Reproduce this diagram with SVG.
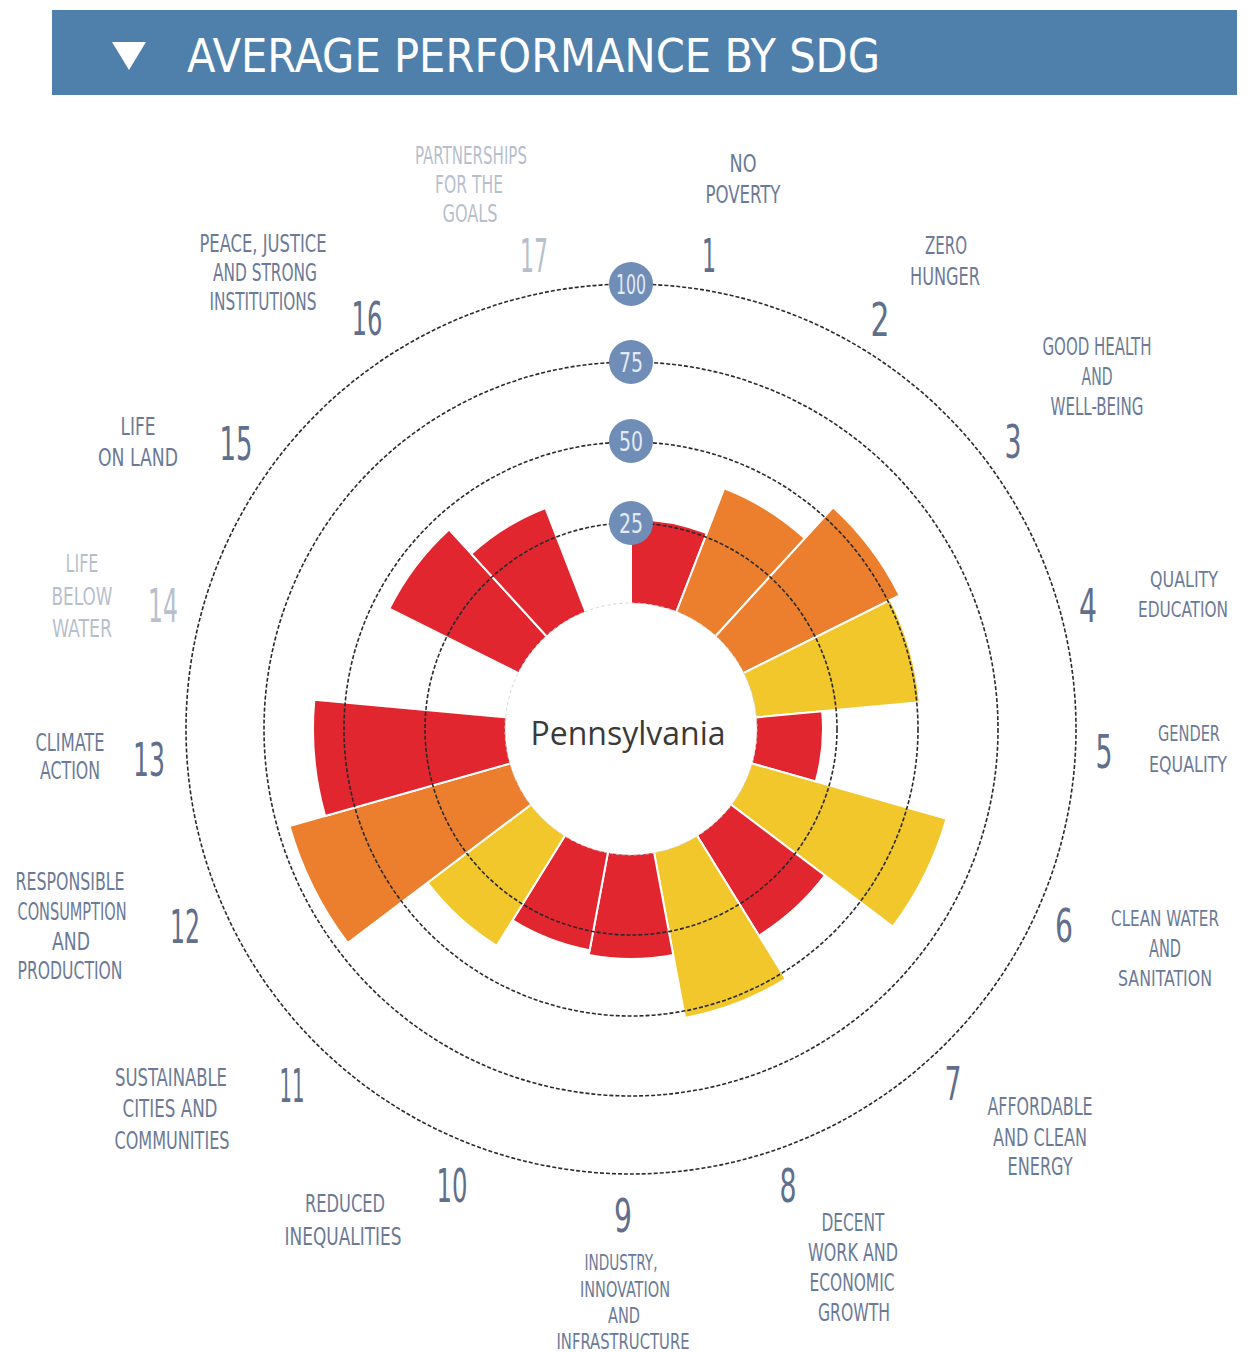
<svg xmlns="http://www.w3.org/2000/svg" width="1248" height="1352" viewBox="0 0 1248 1352">
<style>
.hdr{font-family:"DejaVu Sans Condensed","Liberation Sans",sans-serif;font-size:46px;fill:#ffffff;}
.num{font-family:"Liberation Sans Narrow","DejaVu Sans Condensed","Liberation Sans",sans-serif;font-size:47px;fill:#5f6f8c;text-anchor:middle;}
.lbl{font-family:"Liberation Sans Narrow","DejaVu Sans Condensed","Liberation Sans",sans-serif;font-size:24px;fill:#6b7a96;text-anchor:middle;}
.rt{font-size:21px;}
.sm{font-size:22px;}
.dim{fill:#b7bfcd;}
.ring{fill:none;stroke:#2a2a2a;stroke-width:1.6;stroke-dasharray:4 2;}
.bar{stroke:#ffffff;stroke-width:2;stroke-linejoin:miter;}
.red{fill:#e1262f;}
.org{fill:#ec7f2d;}
.yel{fill:#f1c72b;}
.badge{fill:#6f8db7;}
.btxt{font-family:"Liberation Sans Narrow","DejaVu Sans Condensed","Liberation Sans",sans-serif;font-size:26px;fill:#e4eaf3;text-anchor:middle;}
</style>
<rect width="1248" height="1352" fill="#ffffff"/>
<g id="header">
<rect x="52" y="10" width="1185" height="85" fill="#4f80ac"/>
<polygon points="112,42 146,42 129,70" fill="#ffffff"/>
<text class="hdr" x="187" y="72" textLength="693" lengthAdjust="spacingAndGlyphs">AVERAGE PERFORMANCE BY SDG</text>
</g>
<g id="bars">
<path id="bar1" class="bar red" d="M631,729 L631,519 A210,210 0 0 1 706.86,533.18 Z"/>
<path id="bar2" class="bar org" d="M631,729 L724.20,488.42 A258,258 0 0 1 804.81,538.34 Z"/>
<path id="bar3" class="bar org" d="M631,729 L833.11,507.30 A300,300 0 0 1 899.55,595.28 Z"/>
<path id="bar4" class="bar yel" d="M631,729 L890.60,599.74 A290,290 0 0 1 919.76,702.24 Z"/>
<path id="bar5" class="bar red" d="M631,729 L822.18,711.28 A192,192 0 0 1 815.67,781.54 Z"/>
<path id="bar6" class="bar yel" d="M631,729 L946.48,818.76 A328,328 0 0 1 892.75,926.66 Z"/>
<path id="bar7" class="bar red" d="M631,729 L824.92,875.44 A243,243 0 0 1 758.92,935.60 Z"/>
<path id="bar8" class="bar yel" d="M631,729 L785.77,978.96 A294,294 0 0 1 685.02,1017.99 Z"/>
<path id="bar9" class="bar red" d="M631,729 L673.26,955.08 A230,230 0 0 1 588.74,955.08 Z"/>
<path id="bar10" class="bar red" d="M631,729 L589.66,950.17 A225,225 0 0 1 512.55,920.30 Z"/>
<path id="bar11" class="bar yel" d="M631,729 L496.76,945.81 A255,255 0 0 1 427.50,882.67 Z"/>
<path id="bar12" class="bar org" d="M631,729 L347.70,942.93 A355,355 0 0 1 289.55,826.15 Z"/>
<path id="bar13" class="bar red" d="M631,729 L325.14,816.02 A318,318 0 0 1 314.36,699.66 Z"/>
<path id="bar15" class="bar red" d="M631,729 L389.31,608.65 A270,270 0 0 1 449.10,529.47 Z"/>
<path id="bar16" class="bar red" d="M631,729 L471.33,553.85 A237,237 0 0 1 545.39,508.00 Z"/>
</g>
<g id="hole">
<circle cx="631" cy="729" r="126" fill="#ffffff" stroke="#d4d4d4" stroke-width="1" stroke-dasharray="3 3"/>
<text x="628" y="745" font-family="'Open Sans','Liberation Sans',sans-serif" font-size="33" fill="#3a3a3a" text-anchor="middle" textLength="195" lengthAdjust="spacingAndGlyphs">Pennsylvania</text>
</g>
<g id="rings">
<circle class="ring" cx="631" cy="729" r="206"/>
<circle class="ring" cx="631" cy="729" r="287"/>
<circle class="ring" cx="631" cy="729" r="367"/>
<circle class="ring" cx="631" cy="729" r="445"/>
</g>
<g id="badges">
<circle class="badge" cx="631" cy="284" r="22"/><text class="btxt" x="631" y="294" textLength="30" lengthAdjust="spacingAndGlyphs">100</text>
<circle class="badge" cx="631" cy="362" r="22"/><text class="btxt" x="631" y="372" textLength="24" lengthAdjust="spacingAndGlyphs">75</text>
<circle class="badge" cx="631" cy="441" r="22"/><text class="btxt" x="631" y="451" textLength="24" lengthAdjust="spacingAndGlyphs">50</text>
<circle class="badge" cx="631" cy="523" r="22"/><text class="btxt" x="631" y="533" textLength="24" lengthAdjust="spacingAndGlyphs">25</text>
</g>
<g id="labels">
<g id="sdg1"><text class="num" x="709" y="272" textLength="14" lengthAdjust="spacingAndGlyphs">1</text>
<text class="lbl" x="743" y="172" textLength="27" lengthAdjust="spacingAndGlyphs">NO</text>
<text class="lbl" x="743" y="203" textLength="75" lengthAdjust="spacingAndGlyphs">POVERTY</text></g>
<g id="sdg2"><text class="num" x="880" y="336" textLength="19" lengthAdjust="spacingAndGlyphs">2</text>
<text class="lbl" x="946" y="254" textLength="42" lengthAdjust="spacingAndGlyphs">ZERO</text>
<text class="lbl" x="945" y="285" textLength="70" lengthAdjust="spacingAndGlyphs">HUNGER</text></g>
<g id="sdg3"><text class="num" x="1013" y="458" textLength="17" lengthAdjust="spacingAndGlyphs">3</text>
<text class="lbl" x="1097" y="355" textLength="109" lengthAdjust="spacingAndGlyphs">GOOD HEALTH</text>
<text class="lbl" x="1097" y="385" textLength="31" lengthAdjust="spacingAndGlyphs">AND</text>
<text class="lbl" x="1097" y="415" textLength="93" lengthAdjust="spacingAndGlyphs">WELL-BEING</text></g>
<g id="sdg4"><text class="num" x="1088" y="622" textLength="18" lengthAdjust="spacingAndGlyphs">4</text>
<text class="lbl rt" x="1184" y="587" textLength="68" lengthAdjust="spacingAndGlyphs">QUALITY</text>
<text class="lbl rt" x="1183" y="617" textLength="90" lengthAdjust="spacingAndGlyphs">EDUCATION</text></g>
<g id="sdg5"><text class="num" x="1104" y="768" textLength="17" lengthAdjust="spacingAndGlyphs">5</text>
<text class="lbl rt" x="1189" y="741" textLength="62" lengthAdjust="spacingAndGlyphs">GENDER</text>
<text class="lbl rt" x="1188" y="772" textLength="78" lengthAdjust="spacingAndGlyphs">EQUALITY</text></g>
<g id="sdg6"><text class="num" x="1064" y="942" textLength="18" lengthAdjust="spacingAndGlyphs">6</text>
<text class="lbl rt" x="1165" y="926" textLength="108" lengthAdjust="spacingAndGlyphs">CLEAN WATER</text>
<text class="lbl" x="1165" y="957" textLength="32" lengthAdjust="spacingAndGlyphs">AND</text>
<text class="lbl rt" x="1165" y="986" textLength="94" lengthAdjust="spacingAndGlyphs">SANITATION</text></g>
<g id="sdg7"><text class="num" x="953" y="1100" textLength="17" lengthAdjust="spacingAndGlyphs">7</text>
<text class="lbl" x="1040" y="1115" textLength="105" lengthAdjust="spacingAndGlyphs">AFFORDABLE</text>
<text class="lbl" x="1040" y="1146" textLength="94" lengthAdjust="spacingAndGlyphs">AND CLEAN</text>
<text class="lbl" x="1040" y="1175" textLength="65" lengthAdjust="spacingAndGlyphs">ENERGY</text></g>
<g id="sdg8"><text class="num" x="788" y="1202" textLength="17" lengthAdjust="spacingAndGlyphs">8</text>
<text class="lbl" x="853" y="1231" textLength="63" lengthAdjust="spacingAndGlyphs">DECENT</text>
<text class="lbl" x="853" y="1261" textLength="90" lengthAdjust="spacingAndGlyphs">WORK AND</text>
<text class="lbl" x="852" y="1291" textLength="85" lengthAdjust="spacingAndGlyphs">ECONOMIC</text>
<text class="lbl" x="854" y="1321" textLength="72" lengthAdjust="spacingAndGlyphs">GROWTH</text></g>
<g id="sdg9"><text class="num" x="623" y="1232" textLength="18" lengthAdjust="spacingAndGlyphs">9</text>
<text class="lbl sm" x="621" y="1270" textLength="73" lengthAdjust="spacingAndGlyphs">INDUSTRY,</text>
<text class="lbl sm" x="625" y="1297" textLength="90" lengthAdjust="spacingAndGlyphs">INNOVATION</text>
<text class="lbl sm" x="624" y="1323" textLength="32" lengthAdjust="spacingAndGlyphs">AND</text>
<text class="lbl sm" x="623" y="1349" textLength="133" lengthAdjust="spacingAndGlyphs">INFRASTRUCTURE</text></g>
<g id="sdg10"><text class="num" x="452" y="1202" textLength="31" lengthAdjust="spacingAndGlyphs">10</text>
<text class="lbl" x="345" y="1212" textLength="80" lengthAdjust="spacingAndGlyphs">REDUCED</text>
<text class="lbl" x="343" y="1245" textLength="117" lengthAdjust="spacingAndGlyphs">INEQUALITIES</text></g>
<g id="sdg11"><text class="num" x="292" y="1102" textLength="25" lengthAdjust="spacingAndGlyphs">11</text>
<text class="lbl" x="171" y="1086" textLength="112" lengthAdjust="spacingAndGlyphs">SUSTAINABLE</text>
<text class="lbl" x="170" y="1117" textLength="95" lengthAdjust="spacingAndGlyphs">CITIES AND</text>
<text class="lbl" x="172" y="1149" textLength="115" lengthAdjust="spacingAndGlyphs">COMMUNITIES</text></g>
<g id="sdg12"><text class="num" x="185" y="943" textLength="30" lengthAdjust="spacingAndGlyphs">12</text>
<text class="lbl" x="70" y="890" textLength="109" lengthAdjust="spacingAndGlyphs">RESPONSIBLE</text>
<text class="lbl" x="72" y="920" textLength="109" lengthAdjust="spacingAndGlyphs">CONSUMPTION</text>
<text class="lbl" x="71" y="950" textLength="38" lengthAdjust="spacingAndGlyphs">AND</text>
<text class="lbl" x="70" y="979" textLength="105" lengthAdjust="spacingAndGlyphs">PRODUCTION</text></g>
<g id="sdg13"><text class="num" x="149" y="776" textLength="32" lengthAdjust="spacingAndGlyphs">13</text>
<text class="lbl" x="70" y="751" textLength="69" lengthAdjust="spacingAndGlyphs">CLIMATE</text>
<text class="lbl" x="70" y="779" textLength="60" lengthAdjust="spacingAndGlyphs">ACTION</text></g>
<g id="sdg14"><text class="num dim" x="163" y="622" textLength="30" lengthAdjust="spacingAndGlyphs">14</text>
<text class="lbl dim" x="82" y="572" textLength="33" lengthAdjust="spacingAndGlyphs">LIFE</text>
<text class="lbl dim" x="82" y="605" textLength="61" lengthAdjust="spacingAndGlyphs">BELOW</text>
<text class="lbl dim" x="82" y="637" textLength="60" lengthAdjust="spacingAndGlyphs">WATER</text></g>
<g id="sdg15"><text class="num" x="236" y="460" textLength="33" lengthAdjust="spacingAndGlyphs">15</text>
<text class="lbl" x="138" y="435" textLength="35" lengthAdjust="spacingAndGlyphs">LIFE</text>
<text class="lbl" x="138" y="466" textLength="80" lengthAdjust="spacingAndGlyphs">ON LAND</text></g>
<g id="sdg16"><text class="num" x="367" y="335" textLength="31" lengthAdjust="spacingAndGlyphs">16</text>
<text class="lbl" x="263" y="252" textLength="127" lengthAdjust="spacingAndGlyphs">PEACE, JUSTICE</text>
<text class="lbl" x="265" y="281" textLength="104" lengthAdjust="spacingAndGlyphs">AND STRONG</text>
<text class="lbl" x="263" y="310" textLength="107" lengthAdjust="spacingAndGlyphs">INSTITUTIONS</text></g>
<g id="sdg17"><text class="num dim" x="534" y="272" textLength="28" lengthAdjust="spacingAndGlyphs">17</text>
<text class="lbl dim" x="471" y="164" textLength="112" lengthAdjust="spacingAndGlyphs">PARTNERSHIPS</text>
<text class="lbl dim" x="469" y="193" textLength="68" lengthAdjust="spacingAndGlyphs">FOR THE</text>
<text class="lbl dim" x="470" y="222" textLength="55" lengthAdjust="spacingAndGlyphs">GOALS</text></g>
</g>
</svg>
